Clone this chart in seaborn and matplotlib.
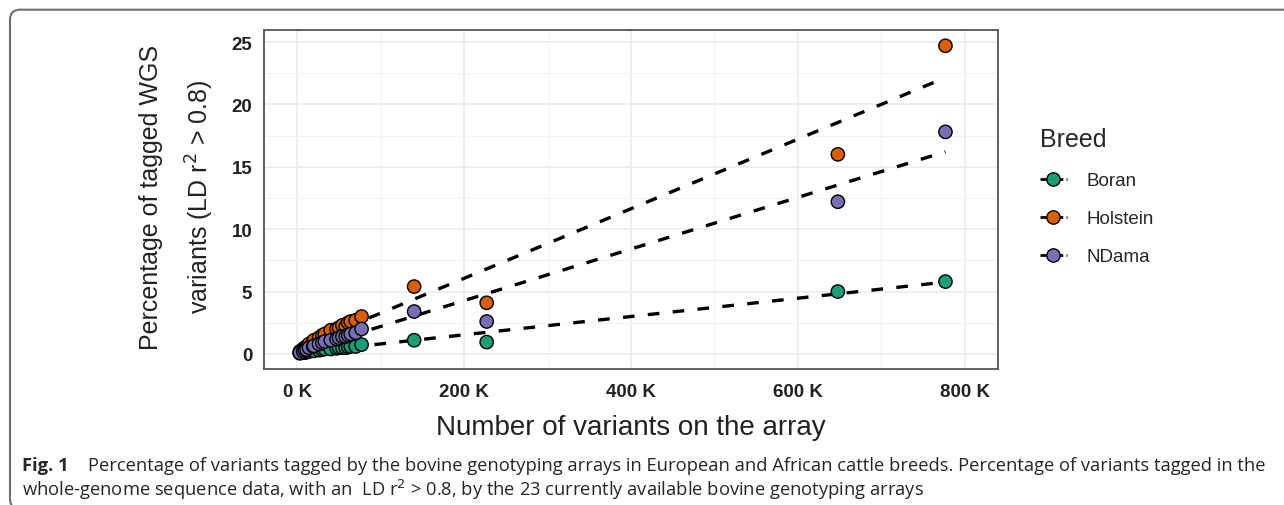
import matplotlib
matplotlib.use("Agg")
import matplotlib.pyplot as plt
import matplotlib.ticker as mticker
from matplotlib.lines import Line2D
from matplotlib.patches import FancyBboxPatch
from matplotlib.transforms import IdentityTransform
import pandas as pd
import seaborn as sns

# Array sizes (number of variants) for the bovine genotyping arrays
array_variants = [3000, 7000, 9000, 11000, 14000, 19000, 20000, 26000, 30000, 33000,
                  40000, 47000, 50000, 54000, 58000, 61000, 64000, 70000, 77000,
                  140000, 227000, 648000, 777000]

# Percentage of WGS variants tagged (LD r2 > 0.8) per breed
holstein = [0.2, 0.4, 0.5, 0.6, 0.8, 1.0, 1.1, 1.3, 1.5, 1.6, 1.9, 2.0, 2.1, 2.3,
            2.2, 2.5, 2.6, 2.7, 3.0, 5.4, 4.1, 16.0, 24.7]
ndama = [0.1, 0.2, 0.3, 0.35, 0.5, 0.6, 0.65, 0.8, 0.9, 1.0, 1.1, 1.2, 1.3, 1.4,
         1.4, 1.5, 1.6, 1.7, 2.0, 3.4, 2.6, 12.2, 17.8]
boran = [0.05, 0.1, 0.1, 0.15, 0.2, 0.25, 0.25, 0.3, 0.35, 0.4, 0.4, 0.45, 0.5, 0.5,
         0.5, 0.55, 0.6, 0.6, 0.75, 1.1, 0.95, 5.0, 5.8]

breeds = ["Boran", "Holstein", "NDama"]
breed_colors = ["#1B9E77", "#D95F02", "#7570B3"]
x_ticks = [0, 200000, 400000, 600000, 800000]
y_ticks = [0, 5, 10, 15, 20, 25]

df = pd.concat([
    pd.DataFrame({"variants": array_variants, "pct": vals, "Breed": name})
    for name, vals in zip(breeds, [boran, holstein, ndama])
], ignore_index=True)

sns.set_theme(style="whitegrid")
plt.rcParams["font.family"] = ["Liberation Sans", "DejaVu Sans"]

W, H = 1284, 506
fig = plt.figure(figsize=(W / 100, H / 100), dpi=100)

# panel box in pixels (left, top, right, bottom measured from the top-left corner)
pl, pt, pr, pb = 264, 31.4, 998, 369.7
ax = fig.add_axes([pl / W, (H - pb) / H, (pr - pl) / W, (pb - pt) / H])

palette = dict(zip(breeds, breed_colors))

# Fitted linear trend per breed
for name in breeds:
    sub = df[df["Breed"] == name]
    sns.regplot(data=sub, x="variants", y="pct", ax=ax, scatter=False, ci=None,
                truncate=True, color="black",
                line_kws={"linestyle": (0, (3.5, 4.0)), "linewidth": 2.4})

sns.scatterplot(data=df, x="variants", y="pct", hue="Breed", palette=palette,
                s=92, edgecolor="black", linewidth=1.0, ax=ax, legend=False,
                zorder=3)

# 5% padding around the tick range on x and around the data on y
span_x = x_ticks[-1] - x_ticks[0]
ax.set_xlim(x_ticks[0] - 0.05 * span_x, x_ticks[-1] + 0.05 * span_x)
ymax, ymin = max(holstein), min(boran)
pad_y = (ymax - ymin) * 0.05
ax.set_ylim(ymin - pad_y, ymax + pad_y)

ax.set_xticks(x_ticks)
ax.xaxis.set_major_formatter(mticker.FuncFormatter(lambda v, p: f"{v/1000:.0f} K"))
ax.set_yticks(y_ticks)
ax.xaxis.set_minor_locator(mticker.MultipleLocator(100000))
ax.yaxis.set_minor_locator(mticker.MultipleLocator(2.5))

ax.grid(which="major", color="#EBEBEB", linewidth=1.2)
ax.grid(which="minor", color="#F3F3F3", linewidth=0.8)
ax.set_axisbelow(True)
for sp in ax.spines.values():
    sp.set_color("#555555")
    sp.set_linewidth(1.3)
ax.tick_params(axis="both", which="major", length=4, width=1, color="#555555",
               labelsize=13.5, labelcolor="#222222")
ax.tick_params(axis="x", pad=6)
ax.tick_params(axis="y", pad=4.5)
ax.tick_params(which="minor", length=0)
for lab in ax.get_xticklabels() + ax.get_yticklabels():
    lab.set_fontweight("bold")

ph = pb - pt
ax.set_xlabel("Number of variants on the array", fontsize=20, color="#222222")
ax.xaxis.label.set_va("center")
ax.xaxis.set_label_coords(0.5, (pb - 428) / ph)

ax.set_ylabel("Percentage of tagged WGS\nvariants (LD r$^2$ > 0.8)", fontsize=18,
              color="#222222", linespacing=1.85)
ax.yaxis.label.set_va("center")
ax.yaxis.set_label_coords((177.5 - pl) / (pr - pl), 0.51)

# Legend: dashed trend line through a coloured point
fs_leg = 13.5
handles = [Line2D([0], [0], color="black", linestyle=(0, (3.5, 1.2)), linewidth=2,
                  marker="o", markersize=9.6, markerfacecolor=c,
                  markeredgecolor="black", markeredgewidth=1)
           for c in breed_colors]


def make_legend(anchor, spacing):
    lg = fig.legend(handles, breeds, title="Breed", loc="upper left",
                    bbox_to_anchor=anchor, frameon=False, fontsize=fs_leg,
                    title_fontsize=18, handlelength=1.44, handletextpad=1.07,
                    labelspacing=spacing)
    lg._legend_box.align = "left"
    return lg


anchor = (1033 / W, 1 - 130 / H)
spacing = 1.0
leg = make_legend(anchor, spacing)
for _ in range(2):
    fig.canvas.draw()
    r = fig.canvas.get_renderer()
    boxes = [t.get_window_extent(r) for t in leg.get_texts()]
    gap = ((boxes[0].y0 + boxes[0].y1) - (boxes[1].y0 + boxes[1].y1)) / 2
    spacing += (38 - gap) / (fs_leg * 100 / 72)
    cy = H - (boxes[0].y0 + boxes[0].y1) / 2
    dx = 1087 - boxes[0].x0
    dy = cy - 182
    anchor = (anchor[0] + dx / W, anchor[1] + dy / H)
    leg.remove()
    leg = make_legend(anchor, spacing)

# Caption
cap_font = ["Open Sans", "DejaVu Sans"]
cap_size = 13.25
fig.text(22 / W, 1 - 466 / H, "Fig. 1", fontsize=cap_size, fontweight="bold",
         family=cap_font, va="center")
fig.text(88 / W, 1 - 466 / H,
         "Percentage of variants tagged by the bovine genotyping arrays in European and "
         "African cattle breeds. Percentage of variants tagged in the",
         fontsize=cap_size, family=cap_font, va="center")
fig.text(22 / W, 1 - 490 / H,
         "whole-genome sequence data, with an  LD r$^2$ > 0.8, by the 23 currently "
         "available bovine genotyping arrays",
         fontsize=cap_size, family=cap_font, va="center")

# Page frame around figure and caption
frame = FancyBboxPatch((10, -4), 1400, H - 10.7 + 4, boxstyle="round,pad=0,rounding_size=10",
                       transform=IdentityTransform(), facecolor="none",
                       edgecolor="#6E6E6E", linewidth=1.5)
fig.add_artist(frame)

fig.savefig("out.png", dpi=100)
